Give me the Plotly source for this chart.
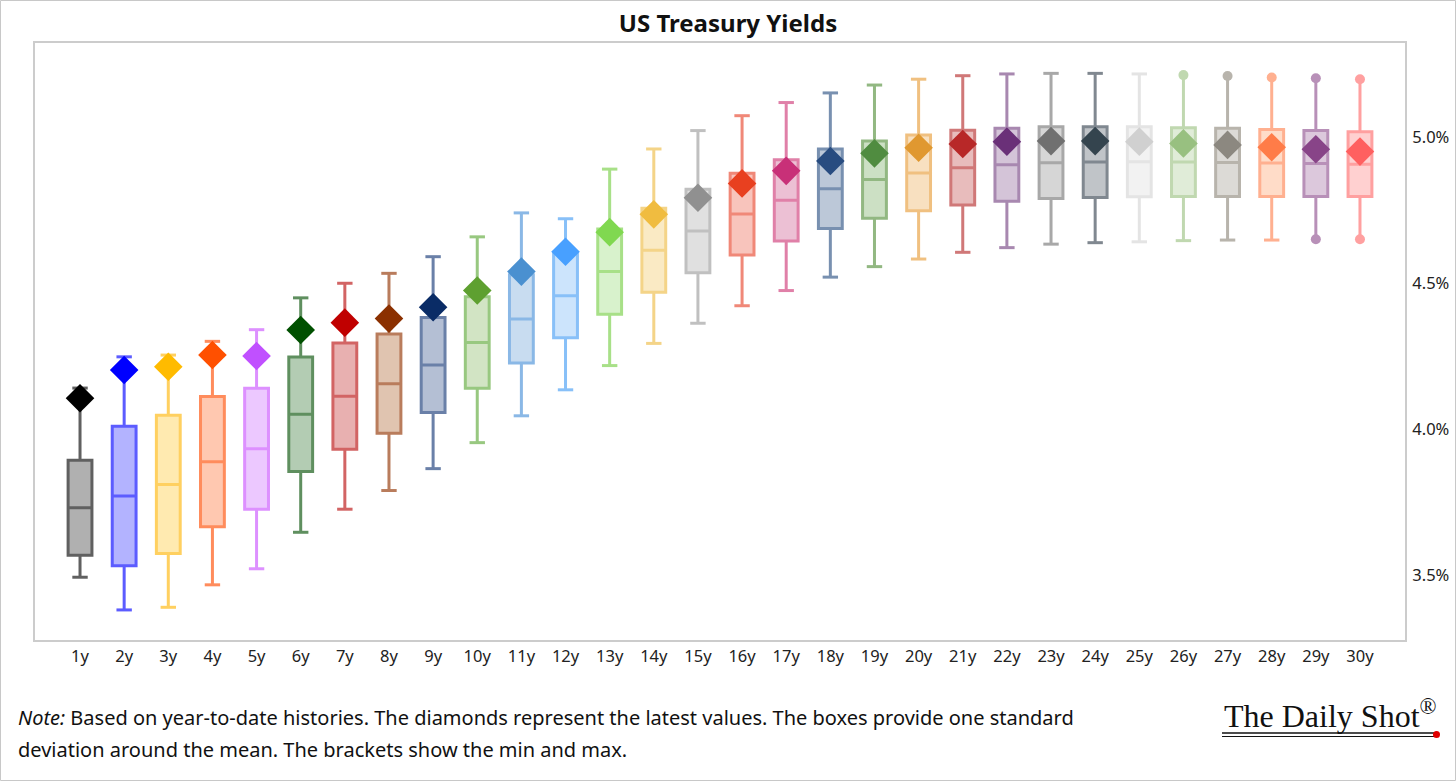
import plotly.graph_objects as go

tenors = [f"{i}y" for i in range(1, 31)]

mean_vals = [3.730, 3.770, 3.810, 3.888, 3.932, 4.050, 4.112, 4.155, 4.219, 4.296,
             4.377, 4.456, 4.539, 4.612, 4.678, 4.736, 4.783, 4.823, 4.854, 4.877,
             4.895, 4.905, 4.912, 4.914, 4.915, 4.914, 4.913, 4.911, 4.909, 4.907]
sd_vals = [0.163, 0.239, 0.237, 0.223, 0.207, 0.196, 0.182, 0.170, 0.163, 0.157,
           0.151, 0.144, 0.146, 0.144, 0.143, 0.140, 0.139, 0.136, 0.132, 0.130,
           0.128, 0.125, 0.123, 0.121, 0.120, 0.118, 0.117, 0.115, 0.113, 0.111]
min_vals = [3.492, 3.380, 3.389, 3.466, 3.521, 3.646, 3.725, 3.789, 3.864, 3.953,
            4.045, 4.134, 4.217, 4.293, 4.362, 4.422, 4.474, 4.520, 4.556, 4.582,
            4.605, 4.621, 4.633, 4.638, 4.641, 4.645, 4.647, 4.647, 4.650, 4.650]
max_vals = [4.140, 4.247, 4.253, 4.300, 4.340, 4.449, 4.499, 4.533, 4.590, 4.658,
            4.740, 4.720, 4.890, 4.959, 5.022, 5.073, 5.118, 5.151, 5.178, 5.198,
            5.210, 5.216, 5.218, 5.218, 5.216, 5.212, 5.209, 5.204, 5.201, 5.198]
latest_vals = [4.105, 4.202, 4.213, 4.253, 4.250, 4.339, 4.364, 4.378, 4.417, 4.474,
               4.539, 4.607, 4.674, 4.735, 4.792, 4.841, 4.884, 4.918, 4.944, 4.963,
               4.976, 4.984, 4.986, 4.986, 4.984, 4.978, 4.973, 4.965, 4.958, 4.950]

# ends drawn as dots instead of brackets
dot_top = {"26y", "27y", "28y", "29y", "30y"}
dot_bottom = {"29y", "30y"}

y_tickvals = [3.5, 4.0, 4.5, 5.0]
y_ticktext = ["3.5%", "4.0%", "4.5%", "5.0%"]

border_colors = ["#606060", "#5c5cff", "#ffd060", "#ff8c5c", "#dd90ff", "#5f8f5f", "#d26464", "#b97c5c",
                 "#6a80a8", "#98c880", "#8ab8e6", "#88c0f8", "#a8e088", "#f4d488", "#c0c0c0", "#f08878",
                 "#e080a8", "#7890b0", "#92b882", "#f0c080", "#d07878", "#a888b0", "#a8a8a8", "#808890",
                 "#e4e4e4", "#c0d8b0", "#b8b4ac", "#ffb090", "#b890b8", "#ffa0a0"]
fill_colors = ["#b0b0b0", "#b3b3ff", "#ffeab0", "#ffc8b0", "#ecc8ff", "#b3ccb3", "#e8b0b0", "#e0c4b0",
               "#b4bfd4", "#d2e4c4", "#c8dcf0", "#cce4fc", "#d8f2cc", "#faeac4", "#e0e0e0", "#f8c4bc",
               "#ecc0d4", "#bcc8d8", "#cce0c4", "#f8e0c0", "#e8bcbc", "#d4c4d8", "#d6d6d6", "#c0c4c8",
               "#f2f2f2", "#e0ecd8", "#dcdad6", "#ffdcc8", "#dcc8dc", "#ffd0d0"]
diamond_colors = ["#000000", "#0000ff", "#ffbb00", "#ff5000", "#c050ff", "#005000", "#c00000", "#8b3000",
                  "#0a2c66", "#5ea030", "#4a90d0", "#48a0ff", "#80d850", "#f0bc40", "#909090", "#e84020",
                  "#c83078", "#284c80", "#508c40", "#e09830", "#b82828", "#6a3078", "#707070", "#34444e",
                  "#d0d0d0", "#98c080", "#8c8880", "#ff7c48", "#884488", "#ff6060"]

fig = go.Figure()
xs = list(range(len(tenors)))

for i, t in enumerate(tenors):
    m, s = mean_vals[i], sd_vals[i]
    fig.add_trace(go.Box(
        x=[i], q1=[m - s], median=[m], q3=[m + s],
        lowerfence=[min_vals[i]], upperfence=[max_vals[i]],
        width=0.54, whiskerwidth=0,
        line=dict(color=border_colors[i], width=3),
        fillcolor=fill_colors[i], boxpoints=False,
        hoverinfo="skip", showlegend=False,
    ))
    # ends: brackets or dots
    for val, is_dot in ((max_vals[i], t in dot_top), (min_vals[i], t in dot_bottom)):
        if is_dot:
            mk = dict(symbol="circle", size=10, color=border_colors[i], line=dict(width=0))
        else:
            mk = dict(symbol="line-ew", size=11, color=border_colors[i],
                      line=dict(width=3, color=border_colors[i]))
        fig.add_trace(go.Scatter(x=[i], y=[val], mode="markers", marker=mk,
                                 hoverinfo="skip", showlegend=False))

fig.add_trace(go.Scatter(
    x=xs, y=latest_vals, mode="markers",
    marker=dict(symbol="diamond", size=22, color=diamond_colors, line=dict(width=0)),
    showlegend=False, hoverinfo="skip",
))

W, H = 1456, 781
L, R, T, B = 35, 51, 43, 141
pw, ph = W - L - R, H - T - B


def px(xp):
    return (xp - L) / pw


def py(yp):
    return (H - B - yp) / ph


fig.update_layout(
    width=W, height=H,
    margin=dict(l=L, r=R, t=T, b=B, autoexpand=False),
    paper_bgcolor="white", plot_bgcolor="white",
    boxmode="overlay",
    font=dict(family="Noto Sans", color="#111111"),
    title=dict(text="<b>US Treasury Yields</b>", x=0.5, xref="container", xanchor="center",
               y=1 - 24 / H, yref="container", yanchor="middle",
               font=dict(size=24, family="Noto Sans", color="#111111")),
    xaxis=dict(range=[-1.02, 30.02], tickvals=xs, ticktext=tenors, showgrid=False, automargin=False,
               zeroline=False, showline=True, linecolor="#cccccc", linewidth=2, mirror=True,
               ticks="", tickfont=dict(size=16.5, color="#222222")),
    yaxis=dict(range=[3.277, 5.322], side="right", tickvals=y_tickvals, ticktext=y_ticktext,
               showgrid=False, zeroline=False, showline=True, linecolor="#cccccc", linewidth=2,
               mirror=True, ticks="", ticklabelstandoff=2, automargin=False,
               tickfont=dict(size=16.5, color="#222222")),
)

# footnote
note_font = dict(family="Noto Sans", size=20, color="#111111")
fig.add_annotation(xref="paper", yref="paper", x=px(16), y=py(717), xanchor="left", yanchor="middle",
                   text="<i>Note:</i> Based on year-to-date histories. The diamonds represent the latest values. The boxes provide one standard",
                   showarrow=False, font=note_font)
fig.add_annotation(xref="paper", yref="paper", x=px(16), y=py(749), xanchor="left", yanchor="middle",
                   text="deviation around the mean. The brackets show the min and max.",
                   showarrow=False, font=note_font)

# logo
fig.add_annotation(xref="paper", yref="paper", x=px(1330), y=py(714), xanchor="center", yanchor="middle",
                   text="The Daily Shot<sup>®</sup>", showarrow=False,
                   font=dict(family="Liberation Serif", size=32, color="#111111"))
fig.add_shape(type="line", xref="paper", yref="paper", x0=px(1222), x1=px(1436), y0=py(733), y1=py(733),
              line=dict(color="#111111", width=1.5))
fig.add_shape(type="line", xref="paper", yref="paper", x0=px(1222), x1=px(1436), y0=py(736.5), y1=py(736.5),
              line=dict(color="#111111", width=1))
fig.add_shape(type="circle", xref="paper", yref="paper", x0=px(1433), x1=px(1440), y0=py(731), y1=py(738),
              fillcolor="#e00000", line=dict(width=0))

# outer frame
fig.add_shape(type="rect", xref="paper", yref="paper", x0=px(0.5), x1=px(W - 0.5), y0=py(0.5), y1=py(H - 0.5),
              line=dict(color="#c8c8c8", width=1), fillcolor="rgba(0,0,0,0)", layer="below")

fig.write_html("out.html")
